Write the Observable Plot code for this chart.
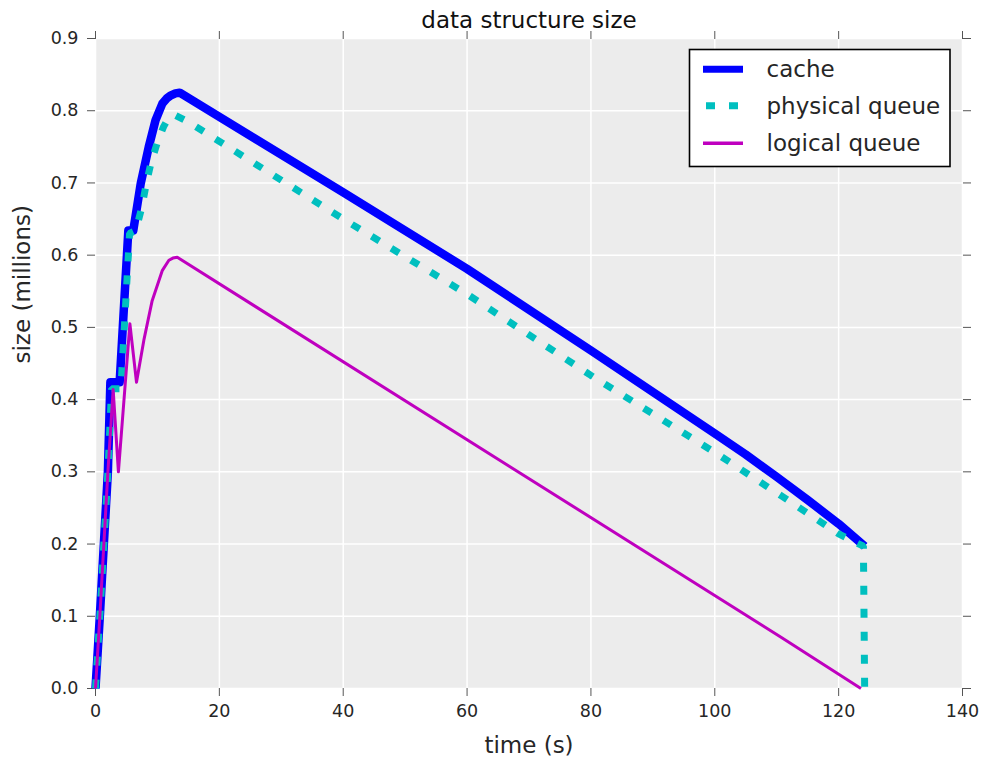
<!DOCTYPE html>
<html>
<head>
<meta charset="utf-8">
<script src="https://cdn.jsdelivr.net/npm/d3@7"></script>
<script src="https://cdn.jsdelivr.net/npm/@observablehq/plot@0.6"></script>
<style>
  html, body { margin: 0; padding: 0; background: white; }
  #chart { width: 981px; height: 759px; }
</style>
</head>
<body>
<div id="chart"></div>
<script>
// ---- data ----
const seriesNames = ["cache", "physical queue", "logical queue"];
const seriesColors = ["#0000ff", "#00bfbf", "#bf00bf"];

const cacheT = [0, 0.7, 1.35, 2.0, 2.4, 3.9, 5.3, 6.1, 7.3, 8.6, 9.7, 10.8, 11.5, 12.1, 12.9, 13.6, 40, 60, 80, 100, 105, 110, 115, 120, 124.2];
const cacheV = [0, 0.1, 0.2, 0.3, 0.424, 0.424, 0.634, 0.634, 0.699, 0.75, 0.787, 0.81, 0.817, 0.821, 0.824, 0.825, 0.687, 0.581, 0.468, 0.353, 0.324, 0.293, 0.261, 0.228, 0.197];

const physT = [0, 0.7, 1.35, 2.0, 2.6, 4.1, 5.5, 6.5, 7.5, 8.2, 9.0, 10.1, 11.0, 11.85, 12.8, 15.1, 40, 60, 80, 100, 110.7, 120, 124.0, 124.2];
const physV = [0, 0.1, 0.2, 0.3, 0.415, 0.415, 0.63, 0.634, 0.667, 0.699, 0.729, 0.759, 0.778, 0.791, 0.794, 0.784, 0.650, 0.546, 0.4335, 0.327, 0.267, 0.214, 0.197, 0];

const logT = [0, 0.7, 1.35, 2.0, 2.85, 3.7, 5.55, 6.62, 7.8, 9.15, 10.8, 11.85, 12.5, 13.2, 110.7, 123.6];
const logV = [0, 0.1, 0.2, 0.3, 0.414, 0.30, 0.505, 0.424, 0.482, 0.537, 0.579, 0.593, 0.596, 0.597, 0.071, 0.0];

const xTicks = [0, 20, 40, 60, 80, 100, 120, 140];
const yTicks = [0.0, 0.1, 0.2, 0.3, 0.4, 0.5, 0.6, 0.7, 0.8, 0.9];

const titleText = "data structure size";
const xLabel = "time (s)";
const yLabel = "size (millions)";

// ---- tables ----
const toRows = (T, V) => T.map((t, i) => ({t, v: V[i]}));
const cache = toRows(cacheT, cacheV);
const phys = toRows(physT, physV);
const logical = toRows(logT, logV);

const textColor = "#262626";
const tickColor = "#555555";
const font = "DejaVu Sans, Verdana, sans-serif";

const chart = Plot.plot({
  width: 981,
  height: 759,
  marginLeft: 95,
  marginRight: 19,
  marginTop: 38,
  marginBottom: 71,
  style: {fontFamily: font, fontSize: "17.5px", color: textColor, background: "white"},
  x: {domain: [0, 140]},
  y: {domain: [0, 0.9]},
  marks: [
    Plot.frame({fill: "#ececec", stroke: null}),
    Plot.gridX(xTicks, {stroke: "white", strokeOpacity: 1, strokeWidth: 1.5}),
    Plot.gridY(yTicks, {stroke: "white", strokeOpacity: 1, strokeWidth: 1.5}),
    Plot.axisX(xTicks, {anchor: "bottom", tickSize: 8, tickPadding: 8, stroke: tickColor, fill: textColor, label: null, tickFormat: d3.format("d")}),
    Plot.axisX(xTicks, {anchor: "top", tickSize: 8, stroke: tickColor, label: null, tickFormat: () => ""}),
    Plot.axisY(yTicks, {anchor: "left", tickSize: 8, tickPadding: 9, stroke: tickColor, fill: textColor, label: null, tickFormat: d3.format(".1f")}),
    Plot.axisY(yTicks, {anchor: "right", tickSize: 8, stroke: tickColor, label: null, tickFormat: () => ""}),
    Plot.line(cache, {x: "t", y: "v", stroke: seriesColors[0], strokeWidth: 8.5, strokeLinejoin: "round", strokeLinecap: "butt"}),
    Plot.line(phys, {x: "t", y: "v", stroke: seriesColors[1], strokeWidth: 7, strokeDasharray: "9,14", strokeLinejoin: "miter", strokeLinecap: "butt"}),
    Plot.line(logical, {x: "t", y: "v", stroke: seriesColors[2], strokeWidth: 3, strokeLinejoin: "round", strokeLinecap: "butt"}),
    Plot.text([titleText], {frameAnchor: "top", dy: -18, fontSize: 23, fill: "#111", lineAnchor: "middle"}),
    Plot.text([xLabel], {frameAnchor: "bottom", dy: 57, fontSize: 23, fill: textColor, lineAnchor: "middle"}),
    Plot.text([yLabel], {frameAnchor: "left", dx: -73, rotate: -90, fontSize: 23, fill: textColor, lineAnchor: "middle"})
  ]
});

document.getElementById("chart").appendChild(chart);

// ---- legend (decoration, pixel placement) ----
const svg = d3.select(chart);
const lg = svg.append("g").attr("font-family", font).attr("font-size", 23)
  .attr("fill", textColor).attr("text-anchor", "start");
lg.append("rect").attr("x", 689.5).attr("y", 49.5).attr("width", 260.5).attr("height", 117)
  .attr("fill", "white").attr("stroke", "black").attr("stroke-width", 1.6);
const rowsY = [69.3, 105.7, 143.3];
const widths = [7, 7, 3.5];
seriesNames.forEach((name, i) => {
  const line = lg.append("line")
    .attr("x1", i === 1 ? 706 : 703).attr("x2", i === 1 ? 738 : 743)
    .attr("y1", rowsY[i]).attr("y2", rowsY[i])
    .attr("stroke", seriesColors[i]).attr("stroke-width", widths[i])
    .attr("stroke-linecap", "butt");
  if (i === 1) line.attr("stroke-dasharray", "9,14");
  lg.append("text").attr("x", 766.5).attr("y", rowsY[i]).attr("dy", "0.35em")
    .attr("text-anchor", "start").text(name);
});
</script>
</body>
</html>
